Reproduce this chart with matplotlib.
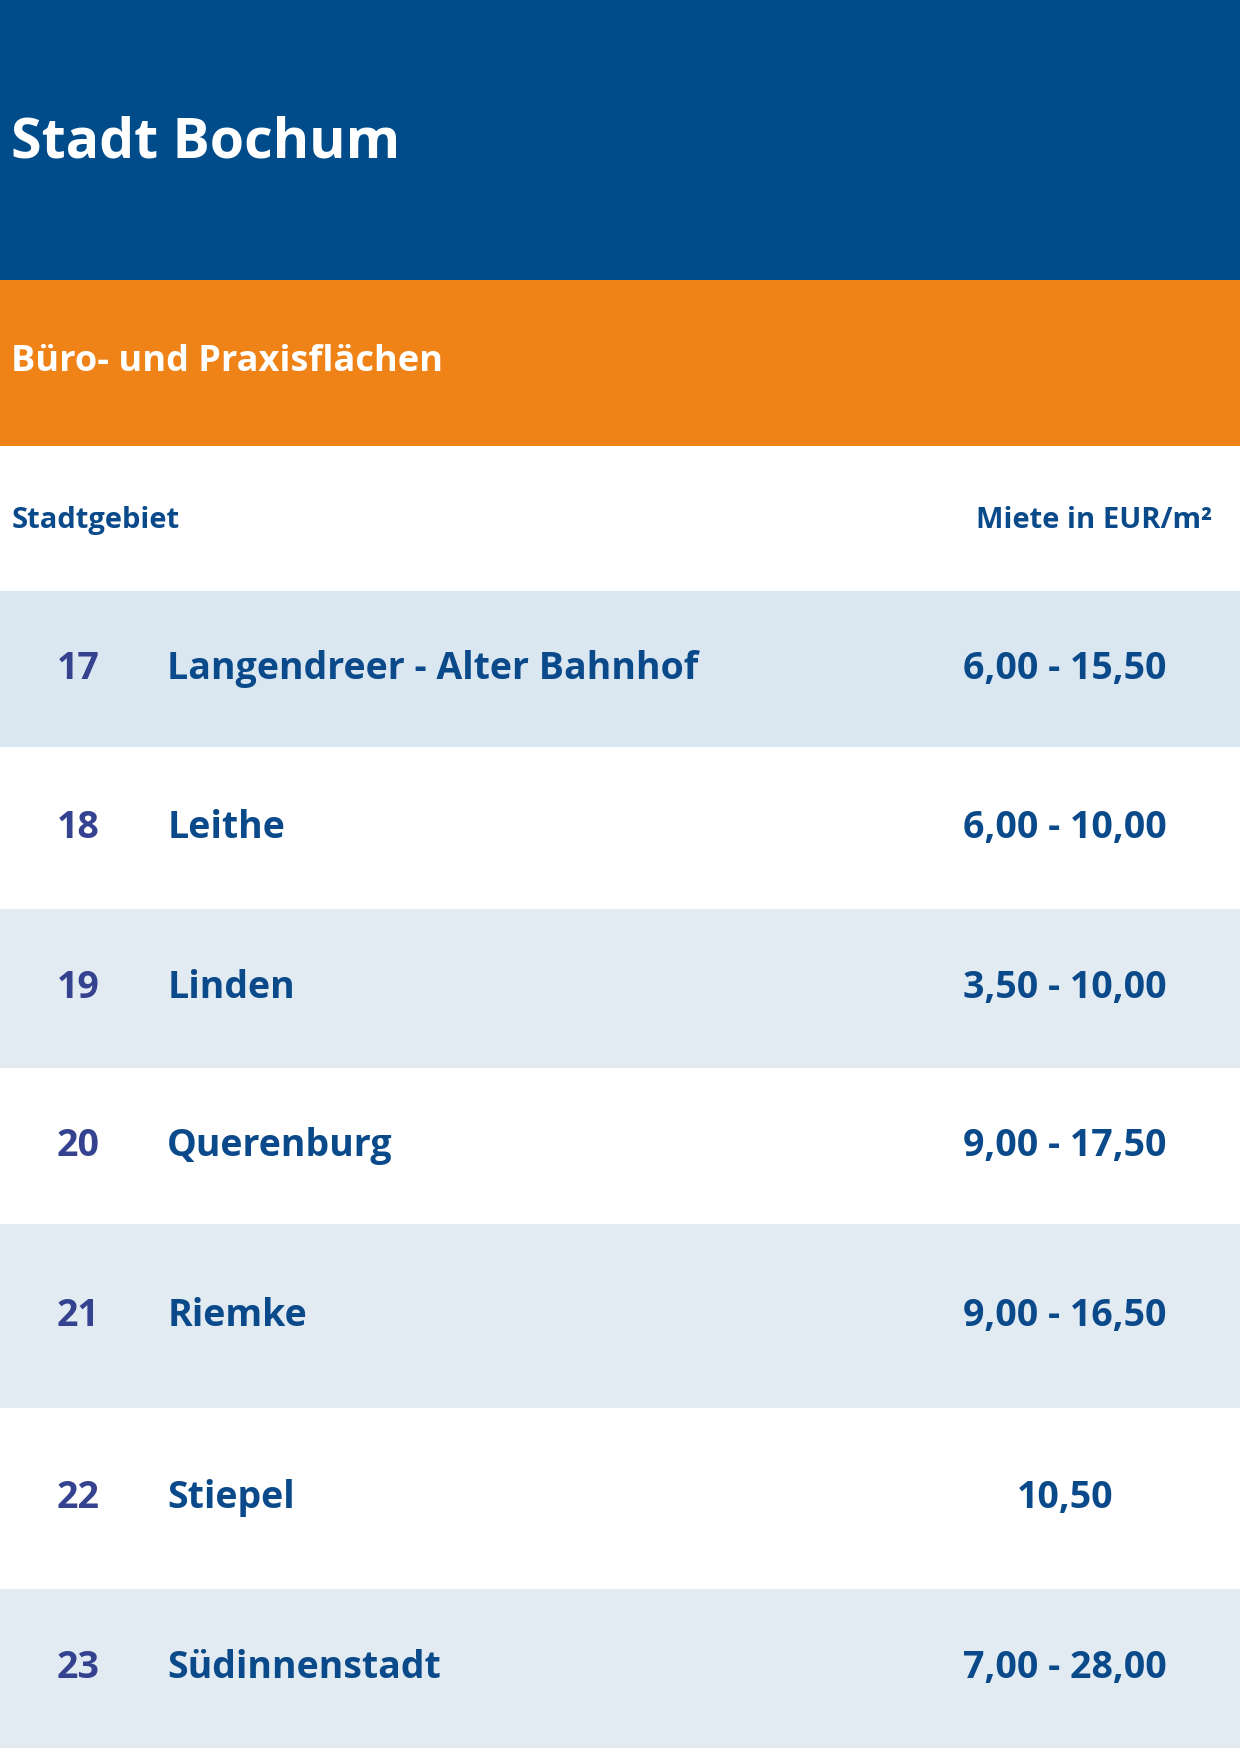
import matplotlib
matplotlib.use('Agg')
import matplotlib.pyplot as plt
from matplotlib.patches import Rectangle

# === data ===
title = "Stadt Bochum"
subtitle = "Büro- und Praxisflächen"
col_left = "Stadtgebiet"
col_right = "Miete in EUR/m²"
numbers = ["17", "18", "19", "20", "21", "22", "23"]
districts = ["Langendreer - Alter Bahnhof", "Leithe", "Linden", "Querenburg",
             "Riemke", "Stiepel", "Südinnenstadt"]
rents = ["6,00 - 15,50", "6,00 - 10,00", "3,50 - 10,00", "9,00 - 17,50",
         "9,00 - 16,50", "10,50", "7,00 - 28,00"]

# row edges in reference pixel units (1112 x 1568 canvas)
row_edges = [530, 670, 815, 958, 1098, 1263, 1425, 1568]

BLUE = "#004c8b"
ORANGE = "#f08318"
TEXT = "#0a4a8a"
NUM = "#34428f"
SHADES = ["#dae7f1", "#ffffff", "#e3ebf2", "#ffffff", "#e3ebf2", "#ffffff", "#e3ebf2"]

plt.rcParams['font.family'] = ['Open Sans', 'DejaVu Sans']

fig = plt.figure(figsize=(12.4, 17.48), dpi=100)
ax = fig.add_axes([0, 0, 1, 1])
ax.set_xlim(0, 1112)
ax.set_ylim(1568, 0)
ax.axis('off')

ax.add_patch(Rectangle((0, 0), 1112, 251, color=BLUE, lw=0))
ax.add_patch(Rectangle((0, 251), 1112, 149, color=ORANGE, lw=0))
ax.text(10, 128, title, color="white", fontsize=40, fontweight="bold", va="center")
ax.text(10, 325, subtitle, color="white", fontsize=26, fontweight="bold", va="center")
ax.text(10, 467, col_left, color=TEXT, fontsize=21, fontweight="bold", va="center")
ax.text(1087, 467, col_right, color=TEXT, fontsize=21, fontweight="bold", va="center", ha="right")

for i in range(len(numbers)):
    top, bot = row_edges[i], row_edges[i + 1]
    mid = (top + bot) / 2
    ax.add_patch(Rectangle((0, top), 1112, bot - top, color=SHADES[i], lw=0))
    ax.text(70, mid, numbers[i], color=NUM, fontsize=27, fontweight="bold", va="center", ha="center")
    ax.text(150, mid, districts[i], color=TEXT, fontsize=27, fontweight="bold", va="center")
    ax.text(955, mid, rents[i], color=TEXT, fontsize=27, fontweight="bold", va="center", ha="center")

fig.savefig("out.png", dpi=100)
